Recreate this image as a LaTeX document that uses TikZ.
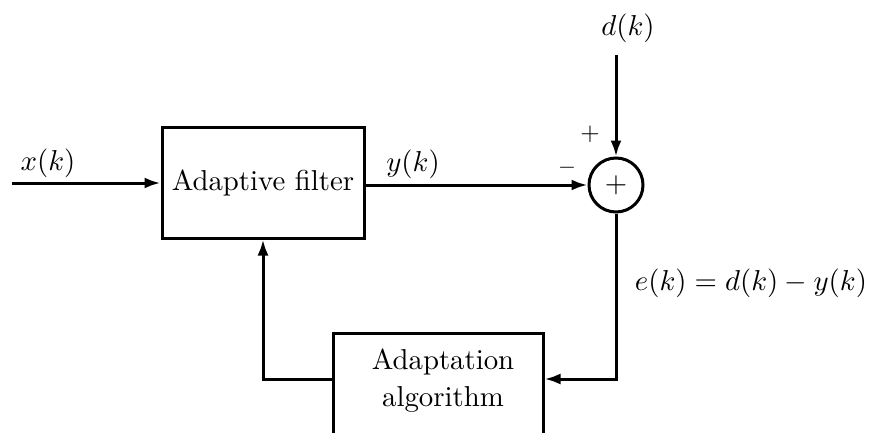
\documentclass[tikz,border=0pt]{standalone}
\usetikzlibrary{arrows.meta,calc}
\newcommand{\bigt}[1]{\scalebox{2.88}{#1}}
\begin{document}
\begin{tikzpicture}[x=1pt,y=-1pt,
  blockbox/.style={draw,line width=3pt,inner sep=0pt},
  wire/.style={line width=3pt},
  arr/.style={wire,-{Latex[length=16pt,width=11pt]}},
  sumnode/.style={draw,circle,line width=3pt,minimum size=54pt,inner sep=0pt}]
\clip (0,0) rectangle (877,433);
\fill[white] (0,0) rectangle (877,433);
% blocks
\node[blockbox,minimum width=202pt,minimum height=111pt] (af) at (263,182.5) {\bigt{Adaptive filter}};
\node[blockbox,minimum width=210pt,minimum height=140pt,anchor=north] (aa) at (438,332) {};
\node[anchor=north,inner sep=0pt] (aatext) at (443,345) {\bigt{\begin{tabular}{@{}c@{}}Adaptation\\[1pt]algorithm\end{tabular}}};
\node[sumnode] (sum) at (616,185) {};
\node[inner sep=0pt] (plus) at (616,185) {\bigt{$+$}};
% labels
\node (xk) at (48,163) {\bigt{$x(k)$}};
\node (yk) at (413,164) {\bigt{$y(k)$}};
\node (dk) at (628,28) {\bigt{$d(k)$}};
\node (pl) at (590,134) {\scalebox{2.5}{$+$}};
\node (mi) at (567,168) {\scalebox{2.3}{$-$}};
\node (ek) at (751,283) {\bigt{$e(k)=d(k)-y(k)$}};
% coordinates
\coordinate (xin) at (12,183);
\coordinate (dtop) at (616,55);
\coordinate (ecorner) at (616,379);
\coordinate (fbcorner) at (263,379);
% wires
\draw[arr] (xin) -- (xin -| af.west);
\draw[arr] (af.east |- sum) -- (sum.west);
\draw[arr] (dtop) -- (sum.north);
\draw[arr] (sum.south) -- (ecorner) -- (ecorner -| aa.east);
\draw[arr] (fbcorner -| aa.west) -- (fbcorner) -- (fbcorner |- af.south);
\end{tikzpicture}
\end{document}
